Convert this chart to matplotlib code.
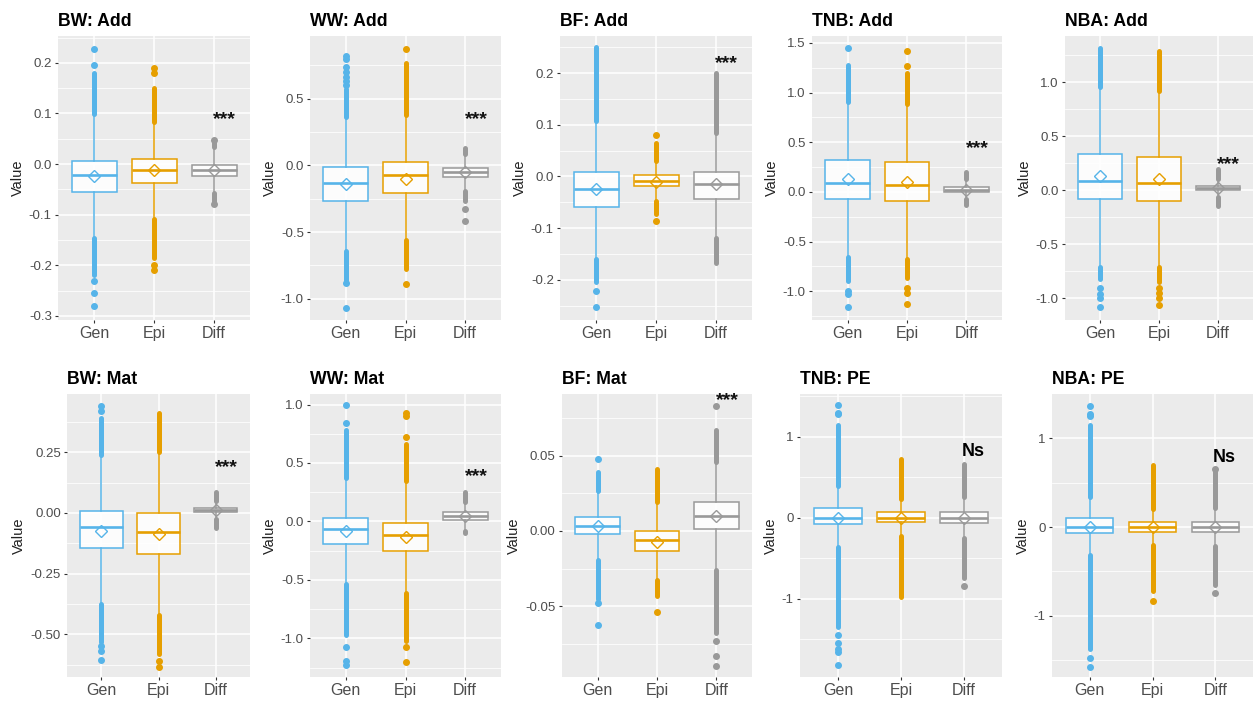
import numpy as np
import matplotlib.pyplot as plt

plt.rcParams['font.family'] = ['Liberation Sans', 'DejaVu Sans']

titles = ['BW: Add', 'WW: Add', 'BF: Add', 'TNB: Add', 'NBA: Add',
          'BW: Mat', 'WW: Mat', 'BF: Mat', 'TNB: PE', 'NBA: PE']
groups = ['Gen', 'Epi', 'Diff']
colors = ['#56B4E9', '#E69F00', '#999999']

# box statistics, one row per panel, columns Gen / Epi / Diff
q1 = [[-0.055, -0.037, -0.024], [-0.265, -0.21, -0.088], [-0.059, -0.018, -0.043],
      [-0.07, -0.09, 0.0], [-0.081, -0.097, 0.0], [-0.146, -0.168, 0.003],
      [-0.196, -0.25, 0.015], [-0.0022, -0.013, 0.001], [-0.075, -0.05, -0.06],
      [-0.068, -0.05, -0.05]]
med = [[-0.022, -0.011, -0.012], [-0.134, -0.076, -0.05], [-0.025, -0.008, -0.015],
       [0.09, 0.07, 0.02], [0.09, 0.072, 0.02], [-0.06, -0.077, 0.012],
       [-0.066, -0.118, 0.043], [0.0033, -0.006, 0.01], [0.0, 0.0, 0.0],
       [0.0, 0.0, 0.0]]
q3 = [[0.006, 0.011, -0.001], [-0.013, 0.025, -0.018], [0.008, 0.002, 0.008],
      [0.32, 0.30, 0.05], [0.336, 0.31, 0.045], [0.008, 0.0, 0.022],
      [0.03, -0.009, 0.078], [0.0093, 0.0, 0.0193], [0.116, 0.066, 0.07],
      [0.10, 0.06, 0.06]]
means = [[-0.024, -0.012, -0.012], [-0.14, -0.1, -0.05], [-0.025, -0.01, -0.015],
         [0.13, 0.10, 0.02], [0.13, 0.11, 0.02], [-0.075, -0.087, 0.013],
         [-0.08, -0.13, 0.045], [0.003, -0.007, 0.01], [0.0, 0.0, 0.0],
         [0.0, 0.0, 0.0]]
whis_lo = [[-0.147, -0.109, -0.058], [-0.643, -0.56, -0.193], [-0.16, -0.048, -0.12],
           [-0.655, -0.675, -0.075], [-0.707, -0.707, -0.065], [-0.377, -0.42, -0.025],
           [-0.535, -0.61, -0.08], [-0.0195, -0.0325, -0.026], [-0.36, -0.22, -0.255],
           [-0.32, -0.2, -0.21]]
whis_hi = [[0.098, 0.083, 0.033], [0.365, 0.378, 0.087], [0.108, 0.03, 0.085],
           [0.905, 0.885, 0.125], [0.96, 0.92, 0.11], [0.239, 0.252, 0.05],
           [0.369, 0.35, 0.17], [0.0266, 0.0195, 0.046], [0.39, 0.23, 0.26],
           [0.34, 0.2, 0.21]]

# extent of the packed outlier runs beyond each whisker
run_hi = [[0.18, 0.15, 0.045], [0.57, 0.77, 0.13], [0.25, 0.065, 0.2],
          [1.28, 1.2, 0.2], [1.32, 1.29, 0.2], [0.39, 0.41, 0.087],
          [0.78, 0.66, 0.25], [0.039, 0.041, 0.067], [1.15, 0.73, 0.66],
          [1.15, 0.7, 0.63]]
run_lo = [[-0.22, -0.185, -0.075], [-0.87, -0.78, -0.27], [-0.205, -0.072, -0.168],
          [-0.9, -0.87, -0.13], [-0.82, -0.85, -0.14], [-0.53, -0.58, -0.063],
          [-0.97, -1.02, -0.1], [-0.045, -0.043, -0.068], [-1.35, -0.98, -0.75],
          [-1.38, -0.72, -0.65]]

# isolated outliers
outliers = [
    [[0.195, 0.228, -0.23, -0.255, -0.28], [0.18, 0.19, -0.2, -0.21], [0.047, -0.078]],
    [[0.6, 0.63, 0.66, 0.7, 0.74, 0.8, 0.82, -0.88, -1.07], [0.87, -0.89], [-0.33, -0.42]],
    [[-0.221, -0.252], [0.08, -0.087], []],
    [[1.45, -1.0, -1.03, -1.16], [1.27, 1.42, -0.97, -1.02, -1.13], []],
    [[-0.9, -0.96, -1.0, -1.08], [-0.9, -0.95, -1.0, -1.06], []],
    [[0.42, 0.44, -0.55, -0.57, -0.607], [-0.61, -0.635], []],
    [[0.84, 1.0, -1.07, -1.19, -1.23], [0.72, 0.9, 0.93, -1.07, -1.2], []],
    [[0.048, -0.048, -0.0624], [-0.054], [0.083, -0.073, -0.083, -0.0896]],
    [[1.28, 1.3, 1.39, -1.45, -1.55, -1.62, -1.66, -1.82], [], [-0.84]],
    [[1.25, 1.28, 1.37, -1.48, -1.58], [-0.835], [0.66, -0.74]],
]

sig_labels = ['***'] * 8 + ['Ns', 'Ns']
sig_y = [0.095, 0.37, 0.225, 0.47, 0.27, 0.2, 0.41, 0.089, 0.82, 0.78]

ylims = [(-0.308, 0.253), (-1.16, 0.97), (-0.278, 0.272), (-1.29, 1.57), (-1.2, 1.43),
         (-0.676, 0.49), (-1.33, 1.09), (-0.097, 0.091), (-1.97, 1.53), (-1.69, 1.5)]
yticks = [[-0.3, -0.2, -0.1, 0.0, 0.1, 0.2], [-1.0, -0.5, 0.0, 0.5],
          [-0.2, -0.1, 0.0, 0.1, 0.2], [-1.0, -0.5, 0.0, 0.5, 1.0, 1.5],
          [-1.0, -0.5, 0.0, 0.5, 1.0], [-0.5, -0.25, 0.0, 0.25],
          [-1.0, -0.5, 0.0, 0.5, 1.0], [-0.05, 0.0, 0.05], [-1, 0, 1], [-1, 0, 1]]
ytick_fmt = ['%.1f', '%.1f', '%.1f', '%.1f', '%.1f', '%.2f', '%.1f', '%.2f', '%d', '%d']

W, H = 1255, 702
fig = plt.figure(figsize=(W / 100, H / 100), dpi=100)

# panel rectangles in pixels: (left, right), rows (top, bottom)
rows = [(36, 320), (394, 677)]
cols = [[(58, 250), (310, 501), (560, 752), (812, 1002), (1065, 1253)],
        [(67, 250), (310, 501), (562, 752), (800, 1002), (1052, 1253)]]

for i in range(10):
    r, c = divmod(i, 5)
    left, right = cols[r][c]
    top, bottom = rows[r]
    ax = fig.add_axes([left / W, 1 - bottom / H, (right - left) / W, (bottom - top) / H])
    ax.set_facecolor('#EBEBEB')
    for s in ax.spines.values():
        s.set_visible(False)

    pos = [1, 2, 3]
    stats = []
    for j in range(3):
        stats.append(dict(med=med[i][j], q1=q1[i][j], q3=q3[i][j],
                          whislo=whis_lo[i][j], whishi=whis_hi[i][j],
                          mean=means[i][j], fliers=np.array(outliers[i][j]),
                          label=groups[j]))

    # packed outliers drawn as a thick run of dots
    for j in range(3):
        lc = ax.vlines([pos[j], pos[j]], [whis_hi[i][j], whis_lo[i][j]],
                       [run_hi[i][j], run_lo[i][j]], colors=colors[j], lw=3.6, zorder=2)
        lc.set_capstyle('round')

    art = ax.bxp(stats, positions=pos, widths=0.75, patch_artist=True,
                 showmeans=True, showcaps=False, zorder=3)
    for j in range(3):
        col = colors[j]
        art['boxes'][j].set(facecolor=(1, 1, 1, 0.88), edgecolor=col, linewidth=1.1)
        art['medians'][j].set(color=col, linewidth=1.9)
        for w in art['whiskers'][2 * j:2 * j + 2]:
            w.set(color=col, linewidth=1.1)
        art['fliers'][j].set(marker='o', markerfacecolor=col, markeredgecolor=col,
                             markersize=4)
        art['means'][j].set(marker='D', markerfacecolor='none', markeredgecolor=col,
                            markersize=6.5, markeredgewidth=1.0)

    if sig_labels[i] == 'Ns':
        ax.text(3.15, sig_y[i], sig_labels[i], ha='center', va='center',
                fontsize=13, fontweight='bold', color='black', zorder=5)
    else:
        ax.annotate(sig_labels[i], (3.18, sig_y[i]), xytext=(0, -2.5),
                    textcoords='offset points', ha='center', va='center',
                    fontsize=14, fontweight='bold', color='#111111', zorder=5,
                    annotation_clip=False)

    ax.set_xlim(0.4, 3.6)
    ax.set_ylim(*ylims[i])
    ticks = yticks[i]
    step = ticks[1] - ticks[0]
    minor = [t + step / 2 for t in [ticks[0] - step] + ticks]
    minor = [m for m in minor if ylims[i][0] < m < ylims[i][1]]
    ax.set_yticks(ticks)
    ax.set_yticklabels([ytick_fmt[i] % t for t in ticks])
    ax.set_yticks(minor, minor=True)
    ax.set_xticks(pos)
    ax.set_xticklabels(groups)
    ax.grid(which='major', color='white', linewidth=1.1)
    ax.grid(which='minor', axis='y', color='white', linewidth=0.55)
    ax.set_axisbelow(True)
    ax.tick_params(which='major', length=2.5, width=0.8, color='#333333',
                   labelcolor='#4D4D4D', pad=2)
    ax.tick_params(axis='y', which='major', labelsize=9.5)
    ax.tick_params(axis='x', which='major', labelsize=11.5)
    ax.tick_params(which='minor', length=0)
    ax.set_ylabel('Value', fontsize=10.5, color='#222222', labelpad=3)
    ax.set_title(titles[i], loc='left', fontsize=12.7, fontweight='bold',
                 color='black', pad=7.5)

fig.savefig('out.png', dpi=100)
